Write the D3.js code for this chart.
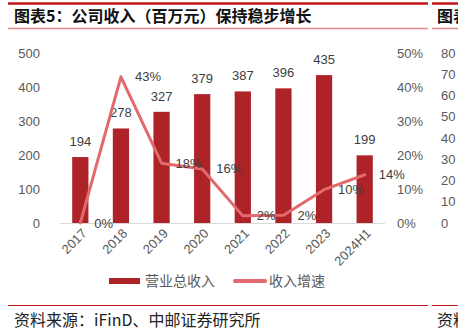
<!DOCTYPE html>
<html><head><meta charset="utf-8">
<script src="https://cdn.jsdelivr.net/npm/d3@7"></script>
<style>
html,body{margin:0;padding:0;background:#fff;}
svg{display:block;}
</style></head>
<body>
<script>
const categories = ["2017","2018","2019","2020","2021","2022","2023","2024H1"];
const revenue = [194, 278, 327, 379, 387, 396, 435, 199];
const growth = [0, 43, 17.6, 15.9, 2.1, 2.3, 9.8, 14.2];
const growthLabels = ["0%","43%","18%","16%","2%","2%","10%","14%"];
const leftTicks = [0,100,200,300,400,500];
const rightTicks = [0,10,20,30,40,50];
const nextChartTicks = [0,10,20,30,40,50,60,70,80];
const titleText = "图表5：公司收入（百万元）保持稳步增长";
const sourceText = "资料来源：iFinD、中邮证券研究所";
const legendNames = ["营业总收入","收入增速"];

const W = 458, H = 335;
const barColor = "#AE2328", lineColor = "#E26A6C";
const latin = "'Liberation Sans', Arial, sans-serif";
const cjk = "'Noto Sans CJK SC', sans-serif";

const svg = d3.select("body").append("svg").attr("width", W).attr("height", H);

// header lines
svg.append("line").attr("x1",8).attr("x2",428).attr("y1",3.5).attr("y2",3.5).attr("stroke","#C0161C").attr("stroke-width",2.5);
svg.append("line").attr("x1",432).attr("x2",458).attr("y1",3.5).attr("y2",3.5).attr("stroke","#C0161C").attr("stroke-width",2.5);
svg.append("line").attr("x1",8).attr("x2",428).attr("y1",28.5).attr("y2",28.5).attr("stroke","#E08A8C").attr("stroke-width",1.5);
svg.append("line").attr("x1",432).attr("x2",458).attr("y1",28.5).attr("y2",28.5).attr("stroke","#E08A8C").attr("stroke-width",1.5);

svg.append("text").attr("x",14).attr("y",22).attr("font-family",cjk).attr("font-weight","bold")
  .attr("font-size",16).attr("fill","#111").text(titleText);
svg.append("text").attr("x",437).attr("y",22).attr("font-family",cjk).attr("font-weight","bold")
  .attr("font-size",16).attr("fill","#111").text("图表");

// scales
const x = d3.scaleBand().domain(categories).range([60,385]).paddingInner(0.6).paddingOuter(0.3);
const yL = d3.scaleLinear().domain([0,500]).range([223,53]);
const yR = d3.scaleLinear().domain([0,50]).range([223,53]);
const yN = d3.scaleLinear().domain([0,80]).range([223,53]);
const cx = c => x(c) + x.bandwidth()/2;

// left axis
const axL = svg.append("g").attr("transform","translate(40,0)")
  .call(d3.axisLeft(yL).tickValues(leftTicks).tickSize(0).tickPadding(0));
axL.select(".domain").remove();
axL.selectAll("text").attr("font-family",latin).attr("font-size",13).attr("fill","#595959");

// right axis
const axR = svg.append("g").attr("transform","translate(397,0)")
  .call(d3.axisRight(yR).tickValues(rightTicks).tickSize(0).tickPadding(0).tickFormat(d=>d+"%"));
axR.select(".domain").remove();
axR.selectAll("text").attr("font-family",latin).attr("font-size",13).attr("fill","#595959");

// next chart partial axis
const axN = svg.append("g").attr("transform","translate(441,0)")
  .call(d3.axisRight(yN).tickValues(nextChartTicks).tickSize(0).tickPadding(0));
axN.select(".domain").remove();
axN.selectAll("text").attr("font-family",latin).attr("font-size",13).attr("fill","#595959");

// baseline
svg.append("line").attr("x1",60).attr("x2",385).attr("y1",223.5).attr("y2",223.5).attr("stroke","#D9D9D9").attr("stroke-width",1);

// bars
svg.selectAll("rect.bar").data(revenue).enter().append("rect").attr("class","bar")
  .attr("x",(d,i)=>x(categories[i])).attr("width",x.bandwidth())
  .attr("y",d=>yL(d)).attr("height",d=>yL(0)-yL(d)).attr("fill",barColor);

svg.selectAll("text.blab").data(revenue).enter().append("text").attr("class","blab")
  .attr("x",(d,i)=>cx(categories[i])).attr("y",d=>yL(d)-11).attr("text-anchor","middle")
  .attr("font-family",latin).attr("font-size",13).attr("fill","#404040").text(d=>d);

// line
const line = d3.line().x((d,i)=>cx(categories[i])).y(d=>yR(d));
svg.append("path").datum(growth).attr("d",line).attr("fill","none").attr("stroke",lineColor)
  .attr("stroke-width",3).attr("stroke-linejoin","round").attr("stroke-linecap","round");

svg.selectAll("text.glab").data(growth).enter().append("text").attr("class","glab")
  .attr("x",(d,i)=>cx(categories[i])+14).attr("y",d=>yR(d)).attr("dy","0.35em")
  .attr("font-family",latin).attr("font-size",13).attr("fill","#404040").text((d,i)=>growthLabels[i]);

// x tick labels
svg.selectAll("text.xlab").data(categories).enter().append("text").attr("class","xlab")
  .attr("transform",d=>`translate(${cx(d)+4},${231}) rotate(-45)`).attr("text-anchor","end").attr("dy","0.35em")
  .attr("font-family",latin).attr("font-size",13).attr("fill","#595959").text(d=>d);

// legend
svg.append("rect").attr("x",109).attr("y",278).attr("width",31).attr("height",6).attr("fill",barColor);
svg.append("text").attr("x",145).attr("y",281).attr("dy","0.35em").attr("font-family",cjk)
  .attr("font-size",14).attr("fill","#595959").text(legendNames[0]);
svg.append("line").attr("x1",235).attr("x2",265).attr("y1",281).attr("y2",281).attr("stroke",lineColor)
  .attr("stroke-width",4).attr("stroke-linecap","round");
svg.append("text").attr("x",269).attr("y",281).attr("dy","0.35em").attr("font-family",cjk)
  .attr("font-size",14).attr("fill","#595959").text(legendNames[1]);

// footer
svg.append("line").attr("x1",8).attr("x2",428).attr("y1",305.5).attr("y2",305.5).attr("stroke","#C0161C").attr("stroke-width",1);
svg.append("line").attr("x1",432).attr("x2",458).attr("y1",305.5).attr("y2",305.5).attr("stroke","#C0161C").attr("stroke-width",1);
svg.append("text").attr("x",14).attr("y",326).attr("font-family",cjk).attr("font-size",16)
  .attr("fill","#222").text(sourceText);
svg.append("text").attr("x",437).attr("y",326).attr("font-family",cjk).attr("font-size",16)
  .attr("fill","#222").text("资料");
</script>
</body></html>
